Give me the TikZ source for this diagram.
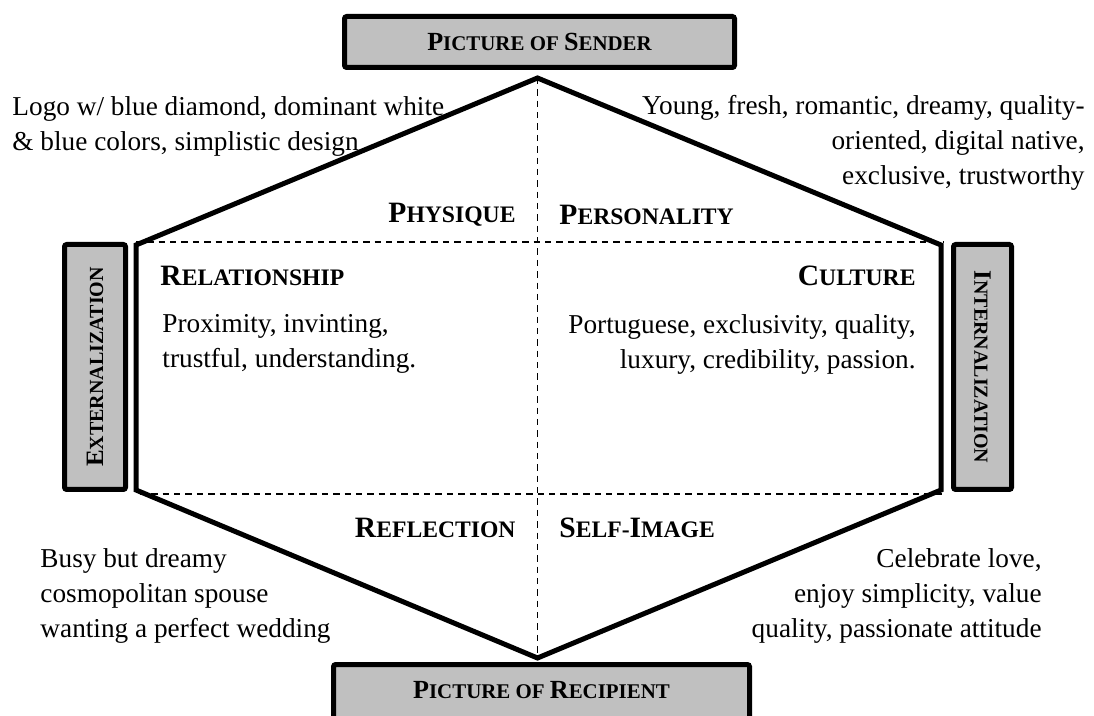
\documentclass[tikz,border=0pt]{standalone}
\usepackage{fontspec}
\setmainfont{Liberation Serif}

\newcommand{\pxu}{0.44pt}
\newcommand{\headsc}[2]{{\bfseries\fontsize{13}{13}\selectfont #1\fontsize{10.4}{12}\selectfont #2}}
\newcommand{\boxsc}[2]{{\bfseries\fontsize{11.5}{12}\selectfont #1\fontsize{9.2}{11}\selectfont #2}}
\newcommand{\sidesc}[2]{{\bfseries\fontsize{11}{11}\selectfont #1\fontsize{8.8}{10}\selectfont #2}}

\definecolor{boxgray}{HTML}{C0C0C0}
\tikzset{
    every node/.style={inner sep=0pt, font=\fontsize{12}{15.4}\selectfont},
    picbox/.style={draw, line width=2.2pt, rounded corners=1pt, fill=boxgray},
    hexline/.style={line width=2.2pt, line join=miter},
    dashline/.style={line width=0.7pt, dash pattern=on 2.8pt off 2.2pt}
}

\begin{document}
\begin{tikzpicture}[x=\pxu, y=-\pxu]
\useasboundingbox (0,0) rectangle (1094,716);

% outer boxes
\node[picbox, minimum width=390*\pxu, minimum height=51*\pxu] (sender) at (539.5,42) {\boxsc{P}{ICTURE OF }\boxsc{S}{ENDER}};
\node[picbox, minimum width=416*\pxu, minimum height=70*\pxu] (recipient) at (541.5,699.5) {};
\node (recipientlab) at (541.5,690) {\boxsc{P}{ICTURE OF }\boxsc{R}{ECIPIENT}};
\node[picbox, minimum width=61*\pxu, minimum height=245*\pxu] (extern) at (95,367) {};
\node[rotate=90] (externlab) at (extern.center) {\sidesc{E}{XTERNALIZATION}};
\node[picbox, minimum width=58*\pxu, minimum height=245*\pxu] (intern) at (982.5,367) {};
\node[rotate=-90] (internlab) at (intern.center) {\sidesc{I}{NTERNALIZATION}};

% hexagon
\coordinate (top) at (537.5,78);
\coordinate (ul) at (136,245);
\coordinate (ll) at (136,490);
\coordinate (bot) at (537.5,658);
\coordinate (lr) at (941,490);
\coordinate (ur) at (941,245);
\draw[hexline] (top) -- (ul) -- (ll) -- (bot) -- (lr) -- (ur) -- cycle;

% dashed cross lines
\coordinate (dul) at (136,242);
\coordinate (dur) at (943,242);
\coordinate (dll) at (140,494);
\coordinate (dlr) at (943,494);
\draw[dashline] (top) -- (bot);
\draw[dashline] (dul) -- (dur);
\draw[dashline] (dll) -- (dlr);

% facets
\node[anchor=east] (physique) at (516,215) {\headsc{P}{HYSIQUE}};
\node[anchor=west] (personality) at (559,215) {\headsc{P}{ERSONALITY}};
\node[anchor=west] (relationship) at (160,276) {\headsc{R}{ELATIONSHIP}};
\node[anchor=east] (culture) at (916,276) {\headsc{C}{ULTURE}};
\node[anchor=east] (reflection) at (516,528) {\headsc{R}{EFLECTION}};
\node[anchor=west] (selfimage) at (559,528) {\headsc{S}{ELF-}\headsc{I}{MAGE}};

% descriptions
\node[anchor=west, align=left] (physiquetxt) at (12,126) {Logo w/ blue diamond, dominant white\\ \& blue colors, simplistic design};
\node[anchor=east, align=right] (personalitytxt) at (1085,143) {Young, fresh, romantic, dreamy, quality-\\ oriented, digital native,\\ exclusive, trustworthy};
\node[anchor=west, align=left] (relationshiptxt) at (162,344) {Proximity, invinting,\\ trustful, understanding.};
\node[anchor=east, align=right] (culturetxt) at (916,344) {Portuguese, exclusivity, quality,\\ luxury, credibility, passion.};
\node[anchor=west, align=left] (reflectiontxt) at (40,596) {Busy but dreamy\\ cosmopolitan spouse\\ wanting a perfect wedding};
\node[anchor=east, align=right] (selfimagetxt) at (1042,596) {Celebrate love,\\ enjoy simplicity, value\\ quality, passionate attitude};

\end{tikzpicture}
\end{document}
